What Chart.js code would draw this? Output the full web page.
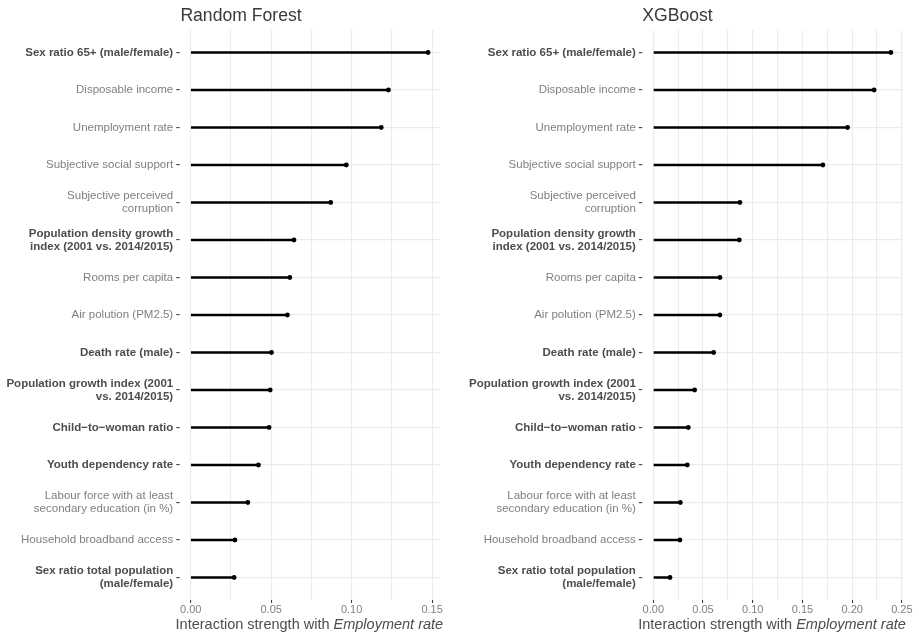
<!DOCTYPE html>
<html>
<head>
<meta charset="utf-8">
<script src="https://cdn.jsdelivr.net/npm/chart.js@4.4.1/dist/chart.umd.min.js"></script>
<style>
  body { margin: 0; background: #ffffff; }
  .panel { position: absolute; top: 0; width: 484px; height: 635px; }
</style>
</head>
<body>
<div class="panel" style="left:0px"><canvas id="rfChart"></canvas></div>
<div class="panel" style="left:435px"><canvas id="xgbChart"></canvas></div>
<script>
// Variables (same order in both panels, top to bottom)
const featureLabels = [
  "Sex ratio 65+ (male/female)",
  "Disposable income",
  "Unemployment rate",
  "Subjective social support",
  ["Subjective perceived", "corruption"],
  ["Population density growth", "index (2001 vs. 2014/2015)"],
  "Rooms per capita",
  "Air polution (PM2.5)",
  "Death rate (male)",
  ["Population growth index (2001", "vs. 2014/2015)"],
  "Child\u2212to\u2212woman ratio",
  "Youth dependency rate",
  ["Labour force with at least", "secondary education (in %)"],
  "Household broadband access",
  ["Sex ratio total population", "(male/female)"]
];
const boldFlags = [true, false, false, false, false, true, false, false, true, true, true, true, false, false, true];

// Interaction strength with Employment rate
const rfValues = [0.1475, 0.1229, 0.1184, 0.0967, 0.0870, 0.0642, 0.0616, 0.0601, 0.0502, 0.0494, 0.0487, 0.0421, 0.0355, 0.0275, 0.0270];
const xgbValues = [0.2389, 0.2221, 0.1954, 0.1706, 0.0871, 0.0865, 0.0670, 0.0670, 0.0607, 0.0416, 0.0352, 0.0342, 0.0272, 0.0268, 0.0168];

// Grid lines (labelled where a multiple of 0.05)
const rfTicks = [0, 0.025, 0.05, 0.075, 0.10, 0.125, 0.15];
const xgbTicks = [0, 0.025, 0.05, 0.075, 0.10, 0.125, 0.15, 0.175, 0.20, 0.225, 0.25];

const panelTitles = ["Random Forest", "XGBoost"];
const axisTitleText = "Interaction strength with ";
const axisTitleItalic = "Employment rate";

const fontFamily = '"Liberation Sans", Arial, Helvetica, sans-serif';
const gridColor = "#ebebeb";

// Titulo del panel y titulo del eje x (con una parte en cursiva)
function makeTextPlugin(title, titleX) {
  return {
    id: "panelText",
    afterDraw(chart) {
      const { ctx, chartArea } = chart;
      ctx.save();
      ctx.textBaseline = "alphabetic";

      ctx.fillStyle = "#3a3a3a";
      ctx.textAlign = "center";
      ctx.font = "17.6px " + fontFamily;
      ctx.fillText(title, titleX, 21);

      const size = 14.5;
      ctx.fillStyle = "#4d4d4d";
      ctx.textAlign = "left";
      ctx.font = size + "px " + fontFamily;
      const w1 = ctx.measureText(axisTitleText).width;
      ctx.font = "italic " + size + "px " + fontFamily;
      const w2 = ctx.measureText(axisTitleItalic).width;
      const x0 = (chartArea.left + chartArea.right) / 2 - (w1 + w2) / 2 - 6;
      const y = 628.5;
      ctx.font = size + "px " + fontFamily;
      ctx.fillText(axisTitleText, x0, y);
      ctx.font = "italic " + size + "px " + fontFamily;
      ctx.fillText(axisTitleItalic, x0 + w1, y);
      ctx.restore();
    }
  };
}

function isMajor(v) {
  return Math.abs(v / 0.05 - Math.round(v / 0.05)) < 1e-6;
}

function createPanel(canvasId, title, titleX, values, ticks, xMax, yWidth, padRight) {
  const points = values.map((v, i) => ({ x: v, y: i }));
  return new Chart(document.getElementById(canvasId), {
    type: "bar",
    data: {
      datasets: [
        {
          type: "bar",
          data: points,
          backgroundColor: "#000000",
          borderWidth: 0,
          barThickness: 2
        },
        {
          type: "scatter",
          data: points,
          pointRadius: 2.4,
          pointBackgroundColor: "#000000",
          pointBorderWidth: 0
        }
      ]
    },
    plugins: [makeTextPlugin(title, titleX)],
    options: {
      indexAxis: "y",
      responsive: true,
      maintainAspectRatio: false,
      animation: false,
      events: [],
      layout: {
        autoPadding: false,
        padding: { left: 0, right: padRight, top: 30, bottom: 0 }
      },
      plugins: {
        legend: { display: false },
        tooltip: { enabled: false },
        title: { display: false }
      },
      scales: {
        x: {
          type: "linear",
          min: 0,
          max: xMax,
          afterBuildTicks: (scale) => {
            scale.ticks = ticks.map((v) => ({ value: v }));
          },
          afterFit: (scale) => {
            scale.height = 35;
          },
          border: { display: false },
          grid: {
            color: gridColor,
            lineWidth: 1.1,
            drawTicks: true,
            tickLength: 3,
            tickWidth: 1,
            tickColor: (ctx) => (ctx.tick && isMajor(ctx.tick.value) ? "#333333" : "rgba(0,0,0,0)")
          },
          ticks: {
            padding: 0,
            maxRotation: 0,
            autoSkip: false,
            color: "#7f7f7f",
            font: { family: fontFamily, size: 11 },
            callback: (v) => (isMajor(v) ? v.toFixed(2) : "")
          }
        },
        y: {
          type: "linear",
          reverse: true,
          offset: false,
          min: -0.6,
          max: featureLabels.length - 0.4,
          afterBuildTicks: (scale) => {
            scale.ticks = featureLabels.map((_, i) => ({ value: i }));
          },
          afterFit: (scale) => {
            scale.width = yWidth;
          },
          border: { display: false },
          grid: {
            offset: false,
            color: gridColor,
            lineWidth: 1.3,
            drawTicks: true,
            tickLength: 14.5,
            tickWidth: 1,
            tickColor: "#333333",
            tickBorderDash: [3.5, 30]
          },
          ticks: {
            padding: 3,
            autoSkip: false,
            color: (ctx) => (boldFlags[ctx.index] ? "#4d4d4d" : "#7f7f7f"),
            font: (ctx) => ({
              family: fontFamily,
              size: 11.5,
              weight: boldFlags[ctx.index] ? "bold" : "normal",
              lineHeight: 1.15
            }),
            callback: (v) => featureLabels[v]
          }
        }
      }
    }
  });
}

createPanel("rfChart", panelTitles[0], 241, rfValues, rfTicks, 0.1549, 190.7, 44);
createPanel("xgbChart", panelTitles[1], 242.5, xgbValues, xgbTicks, 0.2508, 218.3, 16.3);
</script>
</body>
</html>
